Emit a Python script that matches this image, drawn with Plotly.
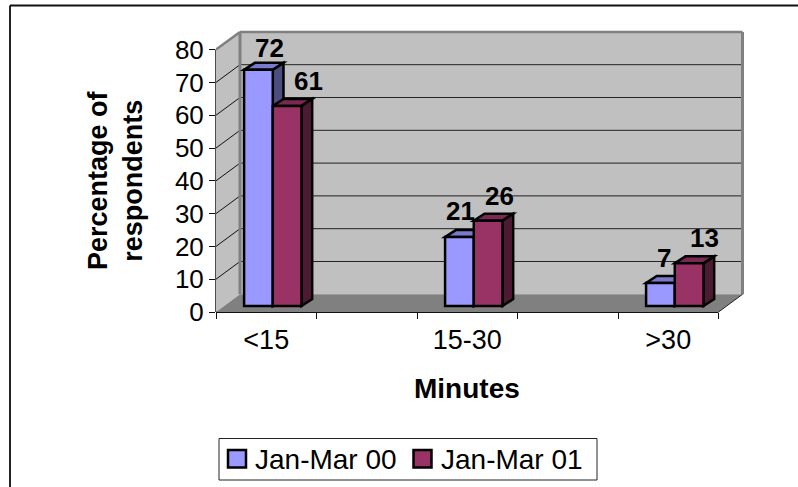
import plotly.graph_objects as go

# ---- data ----
categories = ["<15", "15-30", ">30"]
series_names = ["Jan-Mar 00", "Jan-Mar 01"]
values_00 = [72, 21, 7]
values_01 = [61, 26, 13]
category_positions = [0.5, 2.5, 4.5]
x_tick_positions = [0, 1, 2, 3, 4, 5]
y_ticks = [0, 10, 20, 30, 40, 50, 60, 70, 80]
x_title = "Minutes"
y_title = "Percentage of<br>respondents"

# ---- style ----
W, H = 798, 487
L, R, T, B = 216, 745, 30, 312
PX_X = 100.5
PX_Y = 3.28
XMAX = (R - L) / PX_X
YMAX = (B - T) / PX_Y
DX, DY = 24 / PX_X, 17.7 / PX_Y          # depth of the 3-D box
BAR_W = 28.7 / PX_X
BAR_SHIFT = 0.065
BAR_BASE = 1.83
BDX, BDY = 10.7 / PX_X, 7 / PX_Y         # depth of the 3-D bars
FONT = "Liberation Sans, Arial, sans-serif"
FS = 26
OUTLINE = 2.5
WALL, FLOOR, EDGE = "#C0C0C0", "#808080", "#808080"
colors = ["#9999FF", "#993366"]
side_colors = ["#4D4D80", "#4D1A33"]
top_colors = ["#7A7ACC", "#7A2952"]


def px(x):
    return (x - L) / (R - L)


def py(y):
    return (B - y) / (B - T)


shapes = []


def poly(points, fill, line=None, width=0):
    path = "M" + " L".join(f"{a:.4f},{b:.4f}" for a, b in points) + " Z"
    shapes.append(dict(type="path", path=path, xref="x", yref="y", layer="below",
                       fillcolor=fill, line=dict(color=line or fill, width=width)))


def seg(x0, y0, x1, y1, color, width, xref="x", yref="y"):
    shapes.append(dict(type="line", x0=x0, y0=y0, x1=x1, y1=y1, xref=xref, yref=yref,
                       layer="below", line=dict(color=color, width=width)))


top_val = y_ticks[-1]
end_x = x_tick_positions[-1]

# walls and floor
poly([(DX, DY), (end_x + DX, DY), (end_x + DX, top_val + DY), (DX, top_val + DY)], WALL)
poly([(0, 0), (DX, DY), (DX, top_val + DY), (0, top_val)], WALL)
poly([(0, 0), (end_x, 0), (end_x + DX, DY), (DX, DY)], FLOOR)

# gridlines on side and back wall
for v in y_ticks[1:-1]:
    seg(0, v, DX, v + DY, "#111111", 1)
    seg(DX, v + DY, end_x + DX, v + DY, "#222222", 1)

# wall edges
seg(0, top_val, DX, top_val + DY, EDGE, 2.5)
seg(DX, top_val + DY, end_x + DX, top_val + DY, EDGE, 2.5)
seg(DX, DY, DX, top_val + DY, EDGE, 3)
seg(end_x + DX, DY, end_x + DX, top_val + DY, EDGE, 3)
seg(end_x, 0, end_x + DX, DY, "#222222", 1)

# 3-D faces of bars, derived from the values
for s, vals in enumerate([values_00, values_01]):
    for c, v in zip(category_positions, vals):
        x0 = c + BAR_SHIFT + (s - 1) * BAR_W
        x1 = x0 + BAR_W
        y1 = v + BAR_BASE
        poly([(x0, y1), (x1, y1), (x1 + BDX, y1 + BDY), (x0 + BDX, y1 + BDY)],
             top_colors[s], "black", OUTLINE)
        poly([(x1, BAR_BASE), (x1 + BDX, BAR_BASE + BDY), (x1 + BDX, y1 + BDY), (x1, y1)],
             side_colors[s], "black", OUTLINE)

# axis lines
seg(0, 0, 0, top_val, "#111111", 1.5, xref="paper")
seg(0, 0, end_x, 0, "#111111", 2, yref="paper")

# chart-area frame (only left and top edge are visible in the reference)
shapes.append(dict(type="line", xref="paper", yref="paper", x0=px(10), x1=px(10), y0=py(5.5), y1=py(487),
                   layer="below", line=dict(color="#222222", width=2)))
shapes.append(dict(type="line", xref="paper", yref="paper", x0=px(10), x1=px(798), y0=py(5.5), y1=py(5.5),
                   layer="below", line=dict(color="#111111", width=2)))

# legend box and swatches
shapes.append(dict(type="rect", xref="paper", yref="paper", x0=px(219), x1=px(597), y0=py(480), y1=py(438.5),
                   fillcolor="white", line=dict(color="#222222", width=1), layer="below"))
swatch_x = [228, 413.5]
label_x = [253, 439]
for sx, col in zip(swatch_x, colors):
    shapes.append(dict(type="rect", xref="paper", yref="paper", x0=px(sx), x1=px(sx + 18), y0=py(467.5), y1=py(450),
                       fillcolor=col, line=dict(color="black", width=OUTLINE), layer="below"))

fig = go.Figure()
for s, (name, vals) in enumerate(zip(series_names, [values_00, values_01])):
    fig.add_bar(
        name=name,
        x=[c + BAR_SHIFT for c in category_positions],
        y=vals,
        base=BAR_BASE,
        width=BAR_W,
        offset=(s - 1) * BAR_W,
        marker=dict(color=colors[s], line=dict(color="black", width=OUTLINE)),
        showlegend=False,
        cliponaxis=False,
    )

annotations = []
label_shifts = [[(11.5, 22), (1.5, 26), (4, 25)], [(21, 25), (11, 25), (15, 25)]]
for s, vals in enumerate([values_00, values_01]):
    for c, v, (dx, dy) in zip(category_positions, vals, label_shifts[s]):
        annotations.append(dict(
            x=c + BAR_SHIFT + (s - 0.5) * BAR_W, y=v + BAR_BASE, xref="x", yref="y",
            text=f"<b>{v}</b>", showarrow=False, xanchor="center", yanchor="middle",
            xshift=dx, yshift=dy, font=dict(family=FONT, size=FS, color="black")))

annotations.append(dict(x=px(467), y=py(388), xref="paper", yref="paper", text=f"<b>{x_title}</b>",
                        xanchor="center", yanchor="middle",
                        showarrow=False, font=dict(family=FONT, size=FS + 2, color="black")))
annotations.append(dict(x=px(115), y=py(180), xref="paper", yref="paper", text=f"<b>{y_title}</b>",
                        xanchor="center", yanchor="middle",
                        showarrow=False, textangle=-90, font=dict(family=FONT, size=FS + 1, color="black")))
for lx, name in zip(label_x, series_names):
    annotations.append(dict(x=px(lx), y=py(459), xref="paper", yref="paper", text=name,
                            xanchor="left", yanchor="middle",
                            showarrow=False, font=dict(family=FONT, size=FS + 2, color="black")))

fig.update_layout(
    width=W, height=H, autosize=False,
    margin=dict(l=L, r=W - R, t=T, b=H - B, pad=0),
    paper_bgcolor="white", plot_bgcolor="white",
    barmode="overlay", showlegend=False,
    shapes=shapes, annotations=annotations,
    font=dict(family=FONT, size=FS, color="black"),
    xaxis=dict(range=[0, XMAX], showgrid=False, zeroline=False, showline=False,
               tickmode="array", tickvals=category_positions, ticktext=categories,
               ticks="outside", ticklen=4, tickcolor="rgba(0,0,0,0)",
               minor=dict(tickmode="array", tickvals=x_tick_positions, ticks="outside",
                          ticklen=6, tickcolor="#111111", tickwidth=1, showgrid=False),
               tickfont=dict(family=FONT, size=FS + 1, color="black")),
    yaxis=dict(range=[0, YMAX], showgrid=False, zeroline=False, showline=False,
               tickmode="array", tickvals=y_ticks, ticks="outside", ticklen=6,
               tickcolor="#111111", tickwidth=1,
               tickfont=dict(family=FONT, size=FS, color="black")),
)

# the page's default 8px body margin would otherwise shift the whole figure
fig.write_html("out.html", config=dict(displayModeBar=False),
               post_script="document.body.style.margin='0';")
